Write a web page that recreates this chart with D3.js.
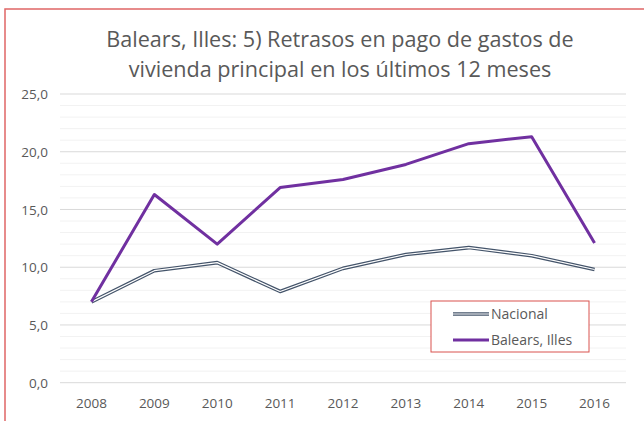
<!DOCTYPE html>
<html><head><meta charset="utf-8">
<script src="https://cdn.jsdelivr.net/npm/d3@7"></script>
<style>body{margin:0;background:#fff}svg{display:block}text{font-family:"Open Sans","Noto Sans",sans-serif}</style>
</head><body>
<svg id="c" width="644" height="421"></svg>
<script>
const years = ["2008","2009","2010","2011","2012","2013","2014","2015","2016"];
const nacional = [7.0, 9.7, 10.4, 7.9, 9.9, 11.1, 11.7, 11.0, 9.8];
const balears = [7.0, 16.3, 12.0, 16.9, 17.6, 18.9, 20.7, 21.3, 12.1];
const yTicks = [0, 5, 10, 15, 20, 25];
const titleLines = ["Balears, Illes: 5) Retrasos en pago de gastos de", "vivienda principal en los últimos 12 meses"];
const seriesNames = ["Nacional", "Balears, Illes"];

const svg = d3.select("#c");
const textColor = "#595959";
// outer chart border (cropped)
svg.append("rect").attr("x",5).attr("y",9).attr("width",660).attr("height",440)
  .attr("fill","none").attr("stroke","#e06666").attr("stroke-width",1.5);

const x = d3.scaleBand().domain(years).range([60,626]);
const y = d3.scaleLinear().domain([0,25]).range([382.7,94]);

// minor grid
const minor = d3.range(0,26,1).filter(v=>v%5!==0);
svg.append("g").selectAll("line").data(minor).join("line")
  .attr("x1",60).attr("x2",626).attr("y1",d=>y(d)).attr("y2",d=>y(d))
  .attr("stroke","#f2f2f2").attr("stroke-width",1);
// major grid
svg.append("g").selectAll("line").data(yTicks).join("line")
  .attr("x1",60).attr("x2",626).attr("y1",d=>y(d)).attr("y2",d=>y(d))
  .attr("stroke","#d9d9d9").attr("stroke-width",1);

const fmt = v => d3.format(".1f")(v).replace(".",",");
const ya = d3.axisLeft(y).tickValues(yTicks).tickFormat(fmt).tickSize(0).tickPadding(0);
const gy = svg.append("g").attr("transform","translate(48,0)").call(ya);
gy.select(".domain").remove();
gy.selectAll("text").attr("fill",textColor).attr("font-size",13.5).attr("dy","0.35em");

const xa = d3.axisBottom(x).tickSize(0).tickPadding(0);
const gx = svg.append("g").attr("transform","translate(0,398)").call(xa);
gx.select(".domain").remove();
gx.selectAll("text").attr("fill",textColor).attr("font-size",13.5).attr("dy","0.71em");

const line = d3.line().x((d,i)=>x(years[i])+x.bandwidth()/2).y(d=>y(d));
// Nacional compound line
svg.append("path").datum(nacional).attr("d",line).attr("fill","none")
  .attr("stroke","#44546a").attr("stroke-width",3.6).attr("stroke-linejoin","round");
svg.append("path").datum(nacional).attr("d",line).attr("fill","none")
  .attr("stroke","#ffffff").attr("stroke-width",1.2).attr("stroke-linejoin","round");
// Balears
svg.append("path").datum(balears).attr("d",line).attr("fill","none")
  .attr("stroke","#7030a0").attr("stroke-width",3).attr("stroke-linejoin","round");

// title
svg.append("g").selectAll("text").data(titleLines).join("text")
  .attr("x",340).attr("y",(d,i)=>47+i*30).attr("text-anchor","middle")
  .attr("fill",textColor).attr("font-size",21.6).text(d=>d);

// legend
const lg = svg.append("g");
lg.append("rect").attr("x",431).attr("y",301).attr("width",158).attr("height",51)
  .attr("fill","#fff").attr("stroke","#d9534f").attr("stroke-width",1);
const ly = [314, 340];
lg.append("line").attr("x1",453).attr("x2",489).attr("y1",ly[0]).attr("y2",ly[0]).attr("stroke","#44546a").attr("stroke-width",3.6);
lg.append("line").attr("x1",453).attr("x2",489).attr("y1",ly[0]).attr("y2",ly[0]).attr("stroke","#fff").attr("stroke-width",1.2);
lg.append("line").attr("x1",453).attr("x2",489).attr("y1",ly[1]).attr("y2",ly[1]).attr("stroke","#7030a0").attr("stroke-width",3);
lg.selectAll("text").data(seriesNames).join("text")
  .attr("x",491).attr("y",(d,i)=>ly[i]).attr("dy","0.35em")
  .attr("fill",textColor).attr("font-size",14).text(d=>d);
</script>
</body></html>
